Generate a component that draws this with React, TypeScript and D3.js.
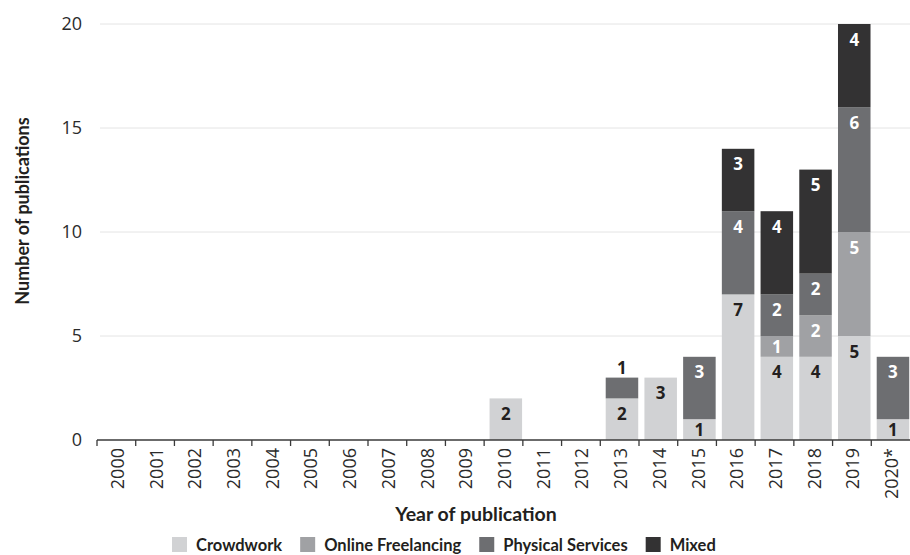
import React, { useRef, useEffect } from "react"
import * as d3 from "d3"

const years = [
  "2000", "2001", "2002", "2003", "2004", "2005", "2006", "2007", "2008", "2009", "2010",
  "2011", "2012", "2013", "2014", "2015", "2016", "2017", "2018", "2019", "2020*",
]
const crowdwork         = [0, 0, 0, 0, 0, 0, 0, 0, 0, 0, 2, 0, 0, 2, 3, 1, 7, 4, 4, 5, 1]
const onlineFreelancing = [0, 0, 0, 0, 0, 0, 0, 0, 0, 0, 0, 0, 0, 0, 0, 0, 0, 1, 2, 5, 0]
const physicalServices  = [0, 0, 0, 0, 0, 0, 0, 0, 0, 0, 0, 0, 0, 1, 0, 3, 4, 2, 2, 6, 3]
const mixed             = [0, 0, 0, 0, 0, 0, 0, 0, 0, 0, 0, 0, 0, 0, 0, 0, 3, 4, 5, 4, 0]

const seriesNames = ["Crowdwork", "Online Freelancing", "Physical Services", "Mixed"]
const seriesValues = [crowdwork, onlineFreelancing, physicalServices, mixed]
const yTicks = [0, 5, 10, 15, 20]

const colors = ["#d1d2d4", "#a0a1a4", "#6d6e71", "#333233"]
const labelColors = ["#231f20", "#ffffff", "#ffffff", "#ffffff"]

const FONT = "'Open Sans', sans-serif"
const BOLD_FONT = "Lato, 'Open Sans', sans-serif"
const W = 910
const H = 555
const margin = { top: 24, right: 0, bottom: 115, left: 97 }

const App: React.FC = () => {
  const svgRef = useRef<SVGSVGElement>(null)

  useEffect(() => {
    if (!svgRef.current) return
    const svg = d3.select(svgRef.current)
    svg.selectAll("*").remove()

    const x = d3.scaleBand<string>().domain(years).range([margin.left, W - margin.right]).padding(0)
    const y = d3.scaleLinear().domain([0, 20]).range([H - margin.bottom, margin.top])
    const step = x.step()
    const barOff = step * 0.14
    const barW = step * 0.84

    // gridlines
    svg.append("g")
      .selectAll("line")
      .data(yTicks.filter(t => t > 0))
      .enter().append("line")
      .attr("x1", margin.left + 3).attr("x2", W)
      .attr("y1", d => y(d)).attr("y2", d => y(d))
      .attr("stroke", "#e4e4e4").attr("stroke-width", 1)

    // y tick labels
    svg.append("g")
      .selectAll("text")
      .data(yTicks)
      .enter().append("text")
      .attr("x", 82).attr("y", d => y(d))
      .attr("dy", "0.35em")
      .attr("text-anchor", "end")
      .attr("font-family", FONT).attr("font-size", 18).attr("fill", "#2b2b2b")
      .text(d => d)

    // stacked data
    const table = years.map((yr, i) => {
      const row: any = { year: yr }
      seriesNames.forEach((s, k) => { row[s] = seriesValues[k][i] })
      return row
    })
    const stacked = d3.stack<any>().keys(seriesNames)(table)

    const barG = svg.append("g")
    stacked.forEach((layer, k) => {
      barG.append("g").attr("fill", colors[k])
        .selectAll("rect")
        .data(layer.filter(d => d[1] - d[0] > 0))
        .enter().append("rect")
        .attr("x", d => (x(d.data.year) as number) + barOff)
        .attr("width", barW)
        .attr("y", d => y(d[1]))
        .attr("height", d => y(d[0]) - y(d[1]))
    })

    // value labels
    const labelG = svg.append("g")
    stacked.forEach((layer, k) => {
      layer.forEach((d, i) => {
        const v = d[1] - d[0]
        if (v <= 0) return
        const isTop = seriesValues.slice(k + 1).every(s => s[i] === 0)
        let ly: number
        let fill = labelColors[k]
        if (v === 1 && isTop && k > 0) {
          ly = y(d[1]) - 10
          fill = "#231f20"
        } else if (v === 1) {
          ly = (y(d[0]) + y(d[1])) / 2
        } else {
          ly = y(d[1]) + 15.5
        }
        labelG.append("text")
          .attr("x", (x(d.data.year) as number) + barOff + barW / 2)
          .attr("y", ly)
          .attr("dy", "0.36em")
          .attr("text-anchor", "middle")
          .attr("font-family", FONT).attr("font-size", 17).attr("font-weight", 700)
          .attr("fill", fill)
          .text(v)
      })
    })

    // x axis
    const axisY = y(0)
    const axG = svg.append("g")
    axG.append("line")
      .attr("x1", margin.left).attr("x2", W)
      .attr("y1", axisY).attr("y2", axisY)
      .attr("stroke", "#3a3a3a").attr("stroke-width", 1.3)
    axG.selectAll("line.tick")
      .data(years)
      .enter().append("line")
      .attr("class", "tick")
      .attr("x1", d => x(d) as number).attr("x2", d => x(d) as number)
      .attr("y1", axisY).attr("y2", axisY + 6)
      .attr("stroke", "#3a3a3a").attr("stroke-width", 1.3)
    axG.selectAll("text")
      .data(years)
      .enter().append("text")
      .attr("transform", d => `translate(${(x(d) as number) + step / 2 + 1},${axisY + 8}) rotate(-90)`)
      .attr("dy", "0.36em")
      .attr("text-anchor", "end")
      .attr("font-family", FONT).attr("font-size", 18).attr("fill", "#2b2b2b")
      .text(d => d)

    // axis titles
    svg.append("text")
      .attr("x", 476).attr("y", 521)
      .attr("text-anchor", "middle")
      .attr("font-family", BOLD_FONT).attr("font-size", 19.5).attr("font-weight", 700).attr("fill", "#231f20")
      .text("Year of publication")

    svg.append("text")
      .attr("transform", `translate(29,211) rotate(-90)`)
      .attr("text-anchor", "middle")
      .attr("font-family", BOLD_FONT).attr("font-size", 18).attr("font-weight", 700).attr("fill", "#231f20")
      .text("Number of publications")

    // legend
    const leg = svg.append("g")
    let lx = 172
    seriesNames.forEach((s, k) => {
      leg.append("rect")
        .attr("x", lx).attr("y", 537).attr("width", 15).attr("height", 15)
        .attr("fill", colors[k])
      const t = leg.append("text")
        .attr("x", lx + 24).attr("y", 551)
        .attr("font-family", BOLD_FONT).attr("font-size", 16.5).attr("font-weight", 700).attr("fill", "#231f20")
        .text(s)
      const tw = (t.node() as SVGTextElement).getComputedTextLength()
      lx = lx + 24 + tw + 18
    })
  }, [])

  return (
    <svg ref={svgRef} width={W} height={H} style={{ display: "block", position: "absolute", left: 0, top: 0, background: "#fff" }} />
  )
}

export default App
